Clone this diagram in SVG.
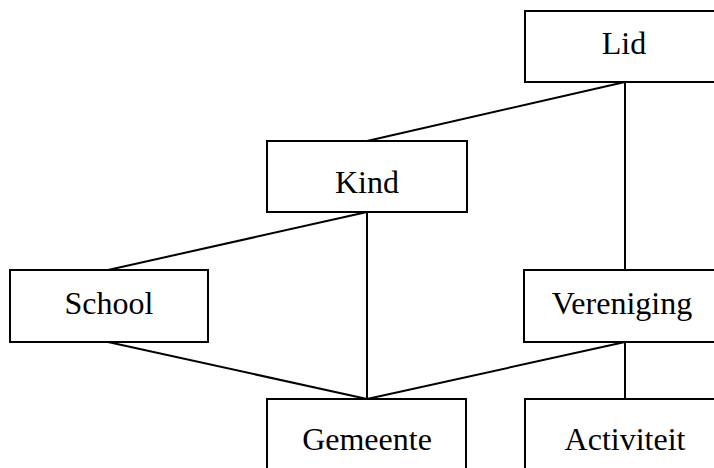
<svg xmlns="http://www.w3.org/2000/svg" width="714" height="468" viewBox="0 0 714 468">
<style>
rect{fill:#fff;stroke:#000;stroke-width:2}
text{font-family:"Liberation Serif","Times New Roman",serif;font-size:32px;text-anchor:middle;fill:#000}
#connectors line{stroke:#000;stroke-width:2}
</style>
<rect x="0" y="0" width="714" height="468" style="stroke:none"/>
<g id="connectors">
<line x1="625" y1="82" x2="367" y2="141"/>
<line x1="625" y1="82" x2="625" y2="270"/>
<line x1="367" y1="212" x2="108" y2="270"/>
<line x1="367" y1="212" x2="367" y2="399"/>
<line x1="108" y1="342" x2="367" y2="399"/>
<line x1="625" y1="342" x2="367" y2="399"/>
<line x1="625" y1="342" x2="625" y2="399"/>
</g>
<g id="lid"><rect x="525" y="11" width="200" height="71"/><text x="624" y="54">Lid</text></g>
<g id="kind"><rect x="267" y="141" width="200" height="71"/><text x="367" y="193">Kind</text></g>
<g id="school"><rect x="10" y="270" width="198" height="72"/><text x="109" y="314">School</text></g>
<g id="vereniging"><rect x="524" y="270" width="200" height="72"/><text x="622" y="314">Vereniging</text></g>
<g id="gemeente"><rect x="267" y="399" width="199" height="80"/><text x="367" y="450">Gemeente</text></g>
<g id="activiteit"><rect x="525" y="399" width="200" height="80"/><text x="625" y="450">Activiteit</text></g>
</svg>
